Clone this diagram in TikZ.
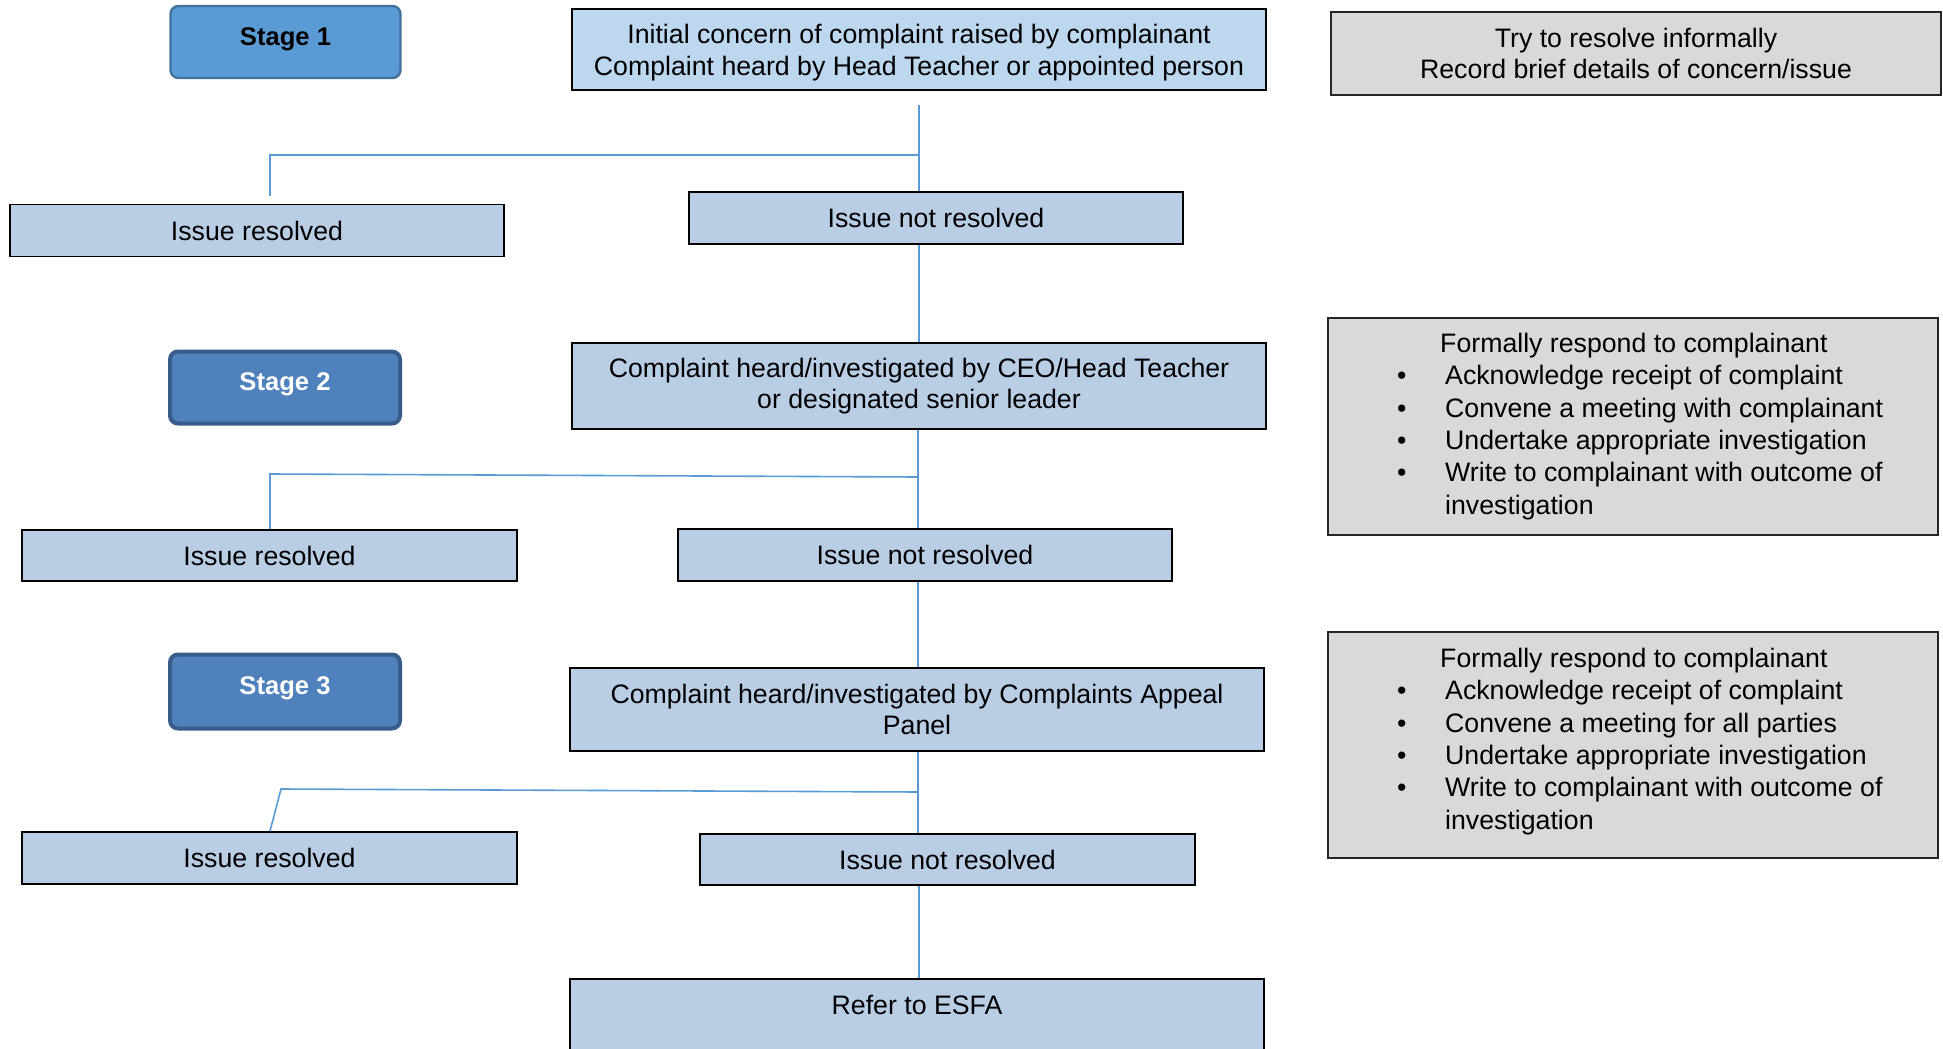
\documentclass[tikz,border=0pt]{standalone}
\usepackage{fontspec}
\setmainfont{Liberation Sans}
\usetikzlibrary{calc}
\definecolor{connc}{RGB}{91,155,213}
\definecolor{boxblue}{RGB}{185,205,229}
\definecolor{topblue}{RGB}{189,215,238}
\definecolor{greyfill}{RGB}{217,217,217}
\definecolor{stageone}{RGB}{91,155,213}
\definecolor{stageoneborder}{RGB}{65,113,156}
\definecolor{stagetwo}{RGB}{79,129,189}
\definecolor{stagetwoborder}{RGB}{56,93,138}
\tikzset{
  txt/.style={font=\fontsize{26.7}{31.5}\selectfont},
  box/.style={txt, draw=black, line width=1.8pt, fill=boxblue, inner sep=0pt, align=center},
  greybox/.style={draw=black!85, line width=1.8pt, fill=greyfill, inner sep=0pt},
  stagebox/.style={rounded corners=8pt, inner sep=0pt, font=\fontsize{25.6}{30}\selectfont\bfseries,
     minimum width=230pt, text depth=11pt},
  conn/.style={draw=connc, line width=1.6pt},
  listtxt/.style={font=\fontsize{26.7}{32.3}\selectfont, align=left, inner sep=0pt, anchor=north west}
}
\begin{document}
\begin{tikzpicture}[x=1pt,y=-1pt]
\clip (0,0) rectangle (1943,1049);
\fill[white] (0,0) rectangle (1943,1049);

% stage boxes
\node[stagebox, fill=stageone, draw=stageoneborder, line width=2.4pt, text=black,
      minimum height=72pt] (s1) at (285.5,42) {Stage 1};
\node[stagebox, fill=stagetwo, draw=stagetwoborder, line width=4pt, text=white,
      minimum height=72pt] (s2) at (285,387.5) {Stage 2};
\node[stagebox, fill=stagetwo, draw=stagetwoborder, line width=4pt, text=white,
      minimum height=74pt] (s3) at (285,691.5) {Stage 3};

% main column
\node[box, fill=topblue, minimum width=694pt, minimum height=81pt] (b1) at (919,49.5)
  {\rule{0pt}{26pt}Initial concern of complaint raised by complainant\\Complaint heard by Head Teacher or appointed person};
\node[box, minimum width=494pt, minimum height=52pt] (r1) at (257,230.5) {Issue resolved};
\node[box, minimum width=494pt, minimum height=52pt] (n1) at (936,218) {Issue not resolved};
\node[box, minimum width=694pt, minimum height=86pt] (b2) at (919,386)
  {Complaint heard/investigated by CEO/Head Teacher\\or designated senior leader};
\node[box, minimum width=495pt, minimum height=51pt] (r2) at (269.5,555.5) {Issue resolved};
\node[box, minimum width=494pt, minimum height=52pt] (n2) at (925,555) {Issue not resolved};
\node[box, minimum width=694pt, minimum height=83pt] (b3) at (917,709.5)
  {Complaint heard/investigated by Complaints Appeal\\Panel};
\node[box, minimum width=495pt, minimum height=52pt] (r3) at (269.5,858) {Issue resolved};
\node[box, minimum width=495pt, minimum height=51pt] (n3) at (947.5,859.5) {Issue not resolved};
\node[box, anchor=north, minimum width=694pt, text height=35.5pt, text depth=70pt] (e) at (917,978) {Refer to ESFA};

% grey boxes
\node[greybox, minimum width=610pt, minimum height=83pt, txt, align=center] (g1) at (1636,53.5)
  {Try to resolve informally\\Record brief details of concern/issue};
\node[greybox, minimum width=610pt, minimum height=217pt] (g2) at (1633,426.5) {};
\node[listtxt] (t2) at (1396,333)
  {\hspace*{44pt}Formally respond to complainant\\
   \makebox[49pt][l]{\hspace{1pt}•}Acknowledge receipt of complaint\\
   \makebox[49pt][l]{\hspace{1pt}•}Convene a meeting with complainant\\
   \makebox[49pt][l]{\hspace{1pt}•}Undertake appropriate investigation\\
   \makebox[49pt][l]{\hspace{1pt}•}Write to complainant with outcome of\\
   \hspace*{49pt}investigation};
\node[greybox, minimum width=610pt, minimum height=226pt] (g3) at (1633,745) {};
\node[listtxt] (t3) at (1396,648)
  {\hspace*{44pt}Formally respond to complainant\\
   \makebox[49pt][l]{\hspace{1pt}•}Acknowledge receipt of complaint\\
   \makebox[49pt][l]{\hspace{1pt}•}Convene a meeting for all parties\\
   \makebox[49pt][l]{\hspace{1pt}•}Undertake appropriate investigation\\
   \makebox[49pt][l]{\hspace{1pt}•}Write to complainant with outcome of\\
   \hspace*{49pt}investigation};

% connectors
\coordinate (a1) at (919,105);
\coordinate (j1) at (919,155);
\coordinate (k1) at (270,155);
\coordinate (m1) at (270,196);
\draw[conn] (a1) -- (a1 |- n1.north);
\draw[conn] (j1) -- (k1) -- (m1);
\draw[conn] (n1.south -| a1) -- (b2.north -| a1);

\coordinate (j2) at (918,477);
\coordinate (k2) at (270,474);
\draw[conn] (b2.south -| j2) -- (n2.north -| j2);
\draw[conn] (j2) -- (k2) -- (r2.north -| k2);
\draw[conn] (n2.south -| j2) -- (b3.north -| j2);

\coordinate (j3) at (918,792);
\coordinate (k3) at (281,789);
\draw[conn] (b3.south -| j3) -- (n3.north -| j3);
\draw[conn] (j3) -- (k3) -- (r3.north -| 270,0);
\draw[conn] (n3.south -| 919,0) -- (e.north -| 919,0);
\end{tikzpicture}
\end{document}
